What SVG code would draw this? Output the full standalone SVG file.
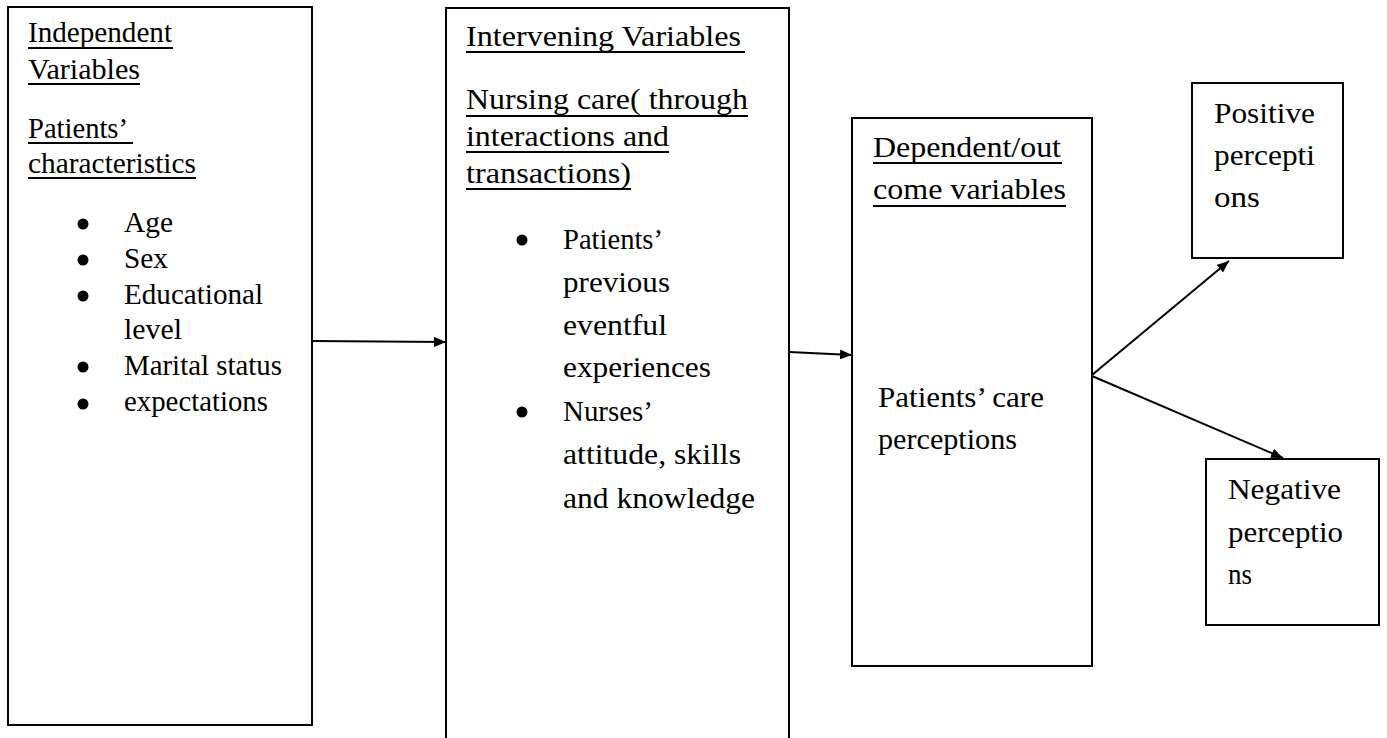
<svg xmlns="http://www.w3.org/2000/svg" width="1387" height="738" viewBox="0 0 1387 738">
<style>
.box{fill:#fff;stroke:#000;stroke-width:2}
.t{font-family:"Liberation Serif","Times New Roman",serif;font-size:29px;fill:#000}
.u{stroke:#000;stroke-width:2}
.b{fill:#000}
.c{stroke:#000;stroke-width:2;fill:none;marker-end:url(#ah)}
</style>
<defs>
<marker id="ah" markerUnits="userSpaceOnUse" markerWidth="12" markerHeight="10" refX="12" refY="5" orient="auto">
<path d="M0,0 L12,5 L0,10 z" fill="#000"/>
</marker>
</defs>
<rect width="1387" height="738" fill="#fff"/>
<g id="connectors">
<line class="c" x1="312" y1="341" x2="446" y2="342"/>
<line class="c" x1="789" y1="352" x2="852" y2="355"/>
<line class="c" x1="1092" y1="375" x2="1229" y2="261"/>
<line class="c" x1="1092" y1="376" x2="1283" y2="458"/>
</g>
<g id="independent">
<rect class="box" x="8" y="7" width="304" height="718"/>
<text class="t" x="28" y="42" textLength="144" lengthAdjust="spacingAndGlyphs">Independent</text>
<line class="u" x1="28" y1="48" x2="173" y2="48"/>
<text class="t" x="28" y="79" textLength="112" lengthAdjust="spacingAndGlyphs">Variables</text>
<line class="u" x1="28" y1="84" x2="140" y2="84"/>
<text class="t" x="28" y="138" textLength="100" lengthAdjust="spacingAndGlyphs">Patients’</text>
<line class="u" x1="28" y1="143" x2="133" y2="143"/>
<text class="t" x="28" y="173" textLength="168" lengthAdjust="spacingAndGlyphs">characteristics</text>
<line class="u" x1="28" y1="178" x2="196" y2="178"/>
<circle class="b" cx="83" cy="224" r="5.5"/>
<text class="t" x="124" y="232" textLength="49" lengthAdjust="spacingAndGlyphs">Age</text>
<circle class="b" cx="83" cy="260" r="5.5"/>
<text class="t" x="124" y="268" textLength="44" lengthAdjust="spacingAndGlyphs">Sex</text>
<circle class="b" cx="83" cy="296" r="5.5"/>
<text class="t" x="124" y="304" textLength="139" lengthAdjust="spacingAndGlyphs">Educational</text>
<text class="t" x="124" y="339" textLength="58" lengthAdjust="spacingAndGlyphs">level</text>
<circle class="b" cx="83" cy="367" r="5.5"/>
<text class="t" x="124" y="375" textLength="158" lengthAdjust="spacingAndGlyphs">Marital status</text>
<circle class="b" cx="83" cy="404" r="5.5"/>
<text class="t" x="124" y="411" textLength="144" lengthAdjust="spacingAndGlyphs">expectations</text>
</g>
<g id="intervening">
<rect class="box" x="446" y="8" width="343" height="740"/>
<text class="t" x="466" y="46" textLength="275" lengthAdjust="spacingAndGlyphs">Intervening Variables</text>
<line class="u" x1="466" y1="52" x2="745" y2="52"/>
<text class="t" x="466" y="109" textLength="282" lengthAdjust="spacingAndGlyphs">Nursing care( through</text>
<line class="u" x1="466" y1="116" x2="748" y2="116"/>
<text class="t" x="466" y="146" textLength="203" lengthAdjust="spacingAndGlyphs">interactions and</text>
<line class="u" x1="466" y1="152" x2="669" y2="152"/>
<text class="t" x="466" y="183" textLength="165" lengthAdjust="spacingAndGlyphs">transactions)</text>
<line class="u" x1="466" y1="189" x2="631" y2="189"/>
<circle class="b" cx="522" cy="240" r="5.5"/>
<text class="t" x="563" y="249" textLength="100" lengthAdjust="spacingAndGlyphs">Patients’</text>
<text class="t" x="563" y="292" textLength="107" lengthAdjust="spacingAndGlyphs">previous</text>
<text class="t" x="563" y="335" textLength="104" lengthAdjust="spacingAndGlyphs">eventful</text>
<text class="t" x="563" y="377" textLength="148" lengthAdjust="spacingAndGlyphs">experiences</text>
<circle class="b" cx="522" cy="412" r="5.5"/>
<text class="t" x="563" y="421" textLength="90" lengthAdjust="spacingAndGlyphs">Nurses’</text>
<text class="t" x="563" y="464" textLength="178" lengthAdjust="spacingAndGlyphs">attitude, skills</text>
<text class="t" x="563" y="508" textLength="192" lengthAdjust="spacingAndGlyphs">and knowledge</text>
</g>
<g id="dependent">
<rect class="box" x="852" y="118" width="240" height="548"/>
<text class="t" x="873" y="157" textLength="188" lengthAdjust="spacingAndGlyphs">Dependent/out</text>
<line class="u" x1="873" y1="163" x2="1062" y2="163"/>
<text class="t" x="873" y="199" textLength="193" lengthAdjust="spacingAndGlyphs">come variables</text>
<line class="u" x1="873" y1="206" x2="1066" y2="206"/>
<text class="t" x="878" y="407" textLength="166" lengthAdjust="spacingAndGlyphs">Patients’ care</text>
<text class="t" x="878" y="449" textLength="139" lengthAdjust="spacingAndGlyphs">perceptions</text>
</g>
<g id="positive">
<rect class="box" x="1192" y="83" width="151" height="175"/>
<text class="t" x="1214" y="123" textLength="101" lengthAdjust="spacingAndGlyphs">Positive</text>
<text class="t" x="1214" y="165" textLength="101" lengthAdjust="spacingAndGlyphs">percepti</text>
<text class="t" x="1214" y="207" textLength="46" lengthAdjust="spacingAndGlyphs">ons</text>
</g>
<g id="negative">
<rect class="box" x="1206" y="459" width="173" height="166"/>
<text class="t" x="1228" y="499" textLength="113" lengthAdjust="spacingAndGlyphs">Negative</text>
<text class="t" x="1228" y="542" textLength="115" lengthAdjust="spacingAndGlyphs">perceptio</text>
<text class="t" x="1228" y="584" textLength="24" lengthAdjust="spacingAndGlyphs">ns</text>
</g>
</svg>
